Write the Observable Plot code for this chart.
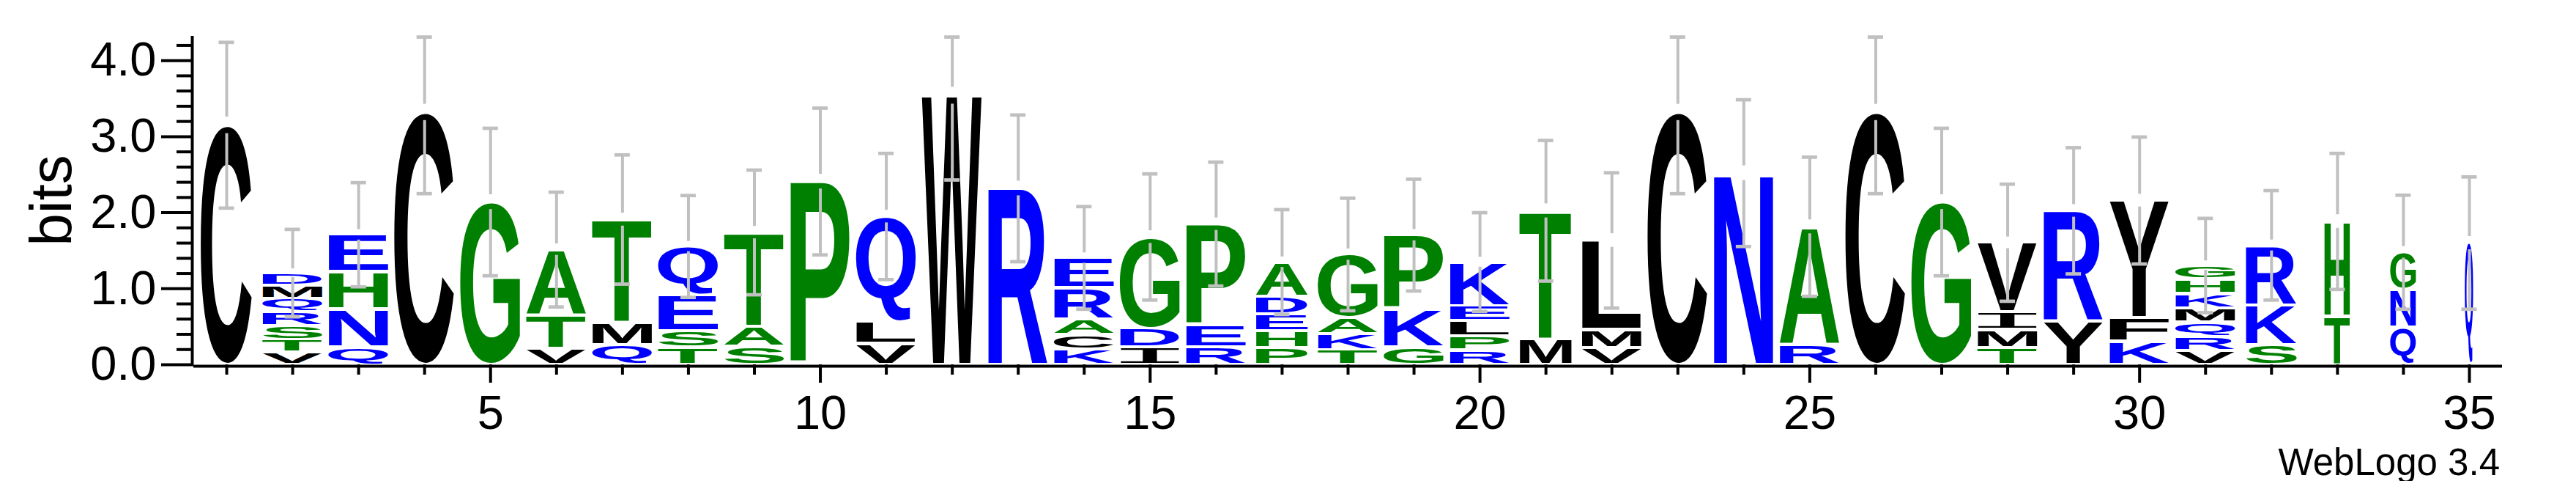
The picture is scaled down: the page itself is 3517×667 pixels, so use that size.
<!DOCTYPE html>
<html>
<head>
<meta charset="utf-8">
<script src="https://cdn.jsdelivr.net/npm/d3@7"></script>
<script src="https://cdn.jsdelivr.net/npm/@observablehq/plot@0.6"></script>
<style>
  html, body { margin: 0; padding: 0; background: #fff; color: #000; }
  #caption {
    font-family: "Liberation Sans", Arial, sans-serif;
    font-size: 51px; line-height: 50px;
    text-align: right; padding-right: 104px; margin-top: 6px;
  }
</style>
</head>
<body>
<div id="chart"></div>
<div id="caption">WebLogo 3.4</div>
<script>
// ---------------- data ----------------
const positions = [1,2,3,4,5,6,7,8,9,10,11,12,13,14,15,16,17,18,19,20,21,22,23,24,25,26,27,28,29,30,31,32,33,34,35];

// letters of each stack, bottom -> top
const stackLetters = [
  "C", "VTSRQMD", "QNHE", "C", "G", "VTA", "QMT", "TSEQ", "SAT", "P",
  "VLQ", "W", "R", "KCARE", "IDG", "REP", "PHEDA", "TKAG", "GKP", "RPLEK",
  "MT", "VML", "C", "N", "RA", "C", "G", "TMIV", "YR", "KFY",
  "VRQMKHG", "SKR", "TH", "QNG", "Q"
];

// height (bits) of each letter, bottom -> top
const stackBits = [
  [3.15],
  [0.16, 0.17, 0.185, 0.18, 0.175, 0.17, 0.165],
  [0.23, 0.50, 0.49, 0.49],
  [3.32],
  [2.14],
  [0.21, 0.435, 0.87],
  [0.26, 0.285, 1.365],
  [0.225, 0.22, 0.465, 0.645],
  [0.24, 0.26, 1.24],
  [2.41],
  [0.275, 0.285, 1.39],
  [3.54],
  [2.32],
  [0.20, 0.195, 0.205, 0.41, 0.395],
  [0.23, 0.25, 1.20],
  [0.23, 0.29, 1.33],
  [0.22, 0.22, 0.225, 0.235, 0.45],
  [0.195, 0.21, 0.21, 0.835],
  [0.23, 0.50, 0.975],
  [0.19, 0.19, 0.195, 0.195, 0.58],
  [0.335, 1.69],
  [0.225, 0.24, 1.17],
  [3.32],
  [2.52],
  [0.26, 1.555],
  [3.32],
  [2.14],
  [0.225, 0.235, 0.23, 0.915],
  [0.575, 1.45],
  [0.305, 0.31, 1.545],
  [0.18, 0.185, 0.19, 0.19, 0.19, 0.19, 0.18],
  [0.26, 0.525, 0.785],
  [0.635, 1.25],
  [0.49, 0.50, 0.49],
  [1.60]
];

// error bar half-length (bits), centred on stack top
const errorBits = [
  1.09, 0.575, 0.685, 1.07, 0.97, 0.755, 0.85, 0.67, 0.82, 0.965,
  0.83, 1.11, 0.965, 0.675, 0.83, 0.815, 0.69, 0.74, 0.735, 0.65,
  0.925, 0.89, 1.07, 0.965, 0.915, 1.07, 0.97, 0.77, 0.83, 0.835,
  0.62, 0.72, 0.895, 0.75, 0.87
];

// relative stack width (fraction of sequences present)
const stackWidths = [
  0.855, 1, 1, 1, 1, 1, 1, 1, 1, 1,
  1, 1, 1, 1, 1, 1, 0.87, 1, 1, 1,
  0.87, 1, 1, 1, 1, 1, 1, 1, 1, 1,
  1, 0.855, 0.43, 0.43, 0.14
];

// hydrophobicity colour scheme
const hydrophilicLetters = "RKDENQ";
const neutralLetters = "SGHTAP";
const hydrophobicLetters = "YVMCLFIW";
const schemeColors = { hydrophilic: "#0000ff", neutral: "#008000", hydrophobic: "#000000" };

const yMajorTicks = [0, 1, 2, 3, 4];
const yMinorTicks = [0.2,0.4,0.6,0.8,1.2,1.4,1.6,1.8,2.2,2.4,2.6,2.8,3.2,3.4,3.6,3.8,4.2];
const xMajorTicks = [5, 10, 15, 20, 25, 30, 35];
const xMinorTicks = [1,2,3,4,6,7,8,9,11,12,13,14,16,17,18,19,21,22,23,24,26,27,28,29,31,32,33,34];

// ---------------- build tables ----------------
const FULL_W = 0.91;      // stack width in position units
const CAP = 0.1166;       // half width of error cap in position units
const Y_MAX = 4.32;       // log2(20)
const BAR_CLIP = 4.31;

function colorOf(L) {
  if (hydrophilicLetters.includes(L)) return schemeColors.hydrophilic;
  if (neutralLetters.includes(L)) return schemeColors.neutral;
  return schemeColors.hydrophobic;
}

const letterData = [];
positions.forEach((p, i) => {
  let cum = 0;
  stackLetters[i].split("").forEach((L, j) => {
    const h = stackBits[i][j];
    letterData.push({pos: p, letter: L, y0: cum, y1: cum + h, mid: cum + h / 2,
                     w: FULL_W * stackWidths[i], color: colorOf(L)});
    cum += h;
  });
});

const errData = positions.map((p, i) => {
  const top = d3.sum(stackBits[i]);
  const e = errorBits[i];
  return {pos: p, lo: top - e, loIn: top - 0.1 * e,
          hiIn: Math.min(top + 0.1 * e, BAR_CLIP), hi: Math.min(top + e, BAR_CLIP)};
});
const capData = errData.flatMap(d => [{pos: d.pos, y: d.lo}, {pos: d.pos, y: d.hi}]);

const FONT = '"Liberation Sans", Arial, Helvetica, sans-serif';
const GRAY = "#c0c0c0";

const chart = Plot.plot({
  width: 3517,
  height: 600,
  marginLeft: 264,
  marginRight: 101,
  marginTop: 49,
  marginBottom: 103,
  x: {domain: [0.5, 35.5]},
  y: {domain: [0, Y_MAX]},
  color: {type: "identity"},
  style: {fontFamily: FONT, background: "#fff", color: "#000", overflow: "visible"},
  marks: [
    Plot.text(letterData, {x: "pos", y: "mid", text: "letter", fill: "color",
      fontSize: 100, fontWeight: "bold"}),
    Plot.ruleX(errData, {x: "pos", y1: "lo", y2: "loIn", stroke: GRAY, strokeWidth: 4}),
    Plot.ruleX(errData, {x: "pos", y1: "hiIn", y2: "hi", stroke: GRAY, strokeWidth: 4}),
    Plot.ruleY(capData, {y: "y", x1: d => d.pos - CAP, x2: d => d.pos + CAP, stroke: GRAY, strokeWidth: 4.7}),
    Plot.ruleX([0.5], {y1: 0, y2: Y_MAX, dx: -2, strokeWidth: 4, stroke: "#000"}),
    Plot.ruleY([0], {x1: 0.5, x2: 35.5, dy: 2, strokeWidth: 4, stroke: "#000"}),
    Plot.axisY(yMajorTicks, {anchor: "left", tickSize: 44, tickPadding: 7, strokeWidth: 4,
      tickFormat: d3.format(".1f"), fontSize: 65, label: null}),
    Plot.axisY(yMinorTicks, {anchor: "left", tickSize: 23, strokeWidth: 4,
      tickFormat: () => "", label: null}),
    Plot.axisX(xMajorTicks, {anchor: "bottom", tickSize: 25, tickPadding: 16, strokeWidth: 4,
      tickFormat: d => String(d), fontSize: 65, label: null}),
    Plot.axisX(xMinorTicks, {anchor: "bottom", tickSize: 14, strokeWidth: 4,
      tickFormat: () => "", label: null}),
    Plot.text(["bits"], {frameAnchor: "left", rotate: -90, dx: -193, fontSize: 80,
      textAnchor: "middle", lineAnchor: "middle"})
  ]
});

document.getElementById("chart").append(chart);

// ---- stretch each letter glyph to fill its box (positions from Plot's scales) ----
const xs = chart.scale("x"), ys = chart.scale("y");
const ctx = document.createElement("canvas").getContext("2d");
const INSET = 2;
function fontFor(L) {
  return L === "I" ? '100px "DejaVu Sans Mono"' : 'bold 100px "Liberation Sans"';
}
const groups = Array.from(chart.querySelectorAll('g[aria-label="text"]'));
const lg = groups.find(g => g.querySelectorAll("text").length === letterData.length);
if (lg) {
  lg.removeAttribute("transform");
  Array.from(lg.querySelectorAll("text")).forEach((t, k) => {
    const i = typeof t.__data__ === "number" ? t.__data__ : k;
    const d = letterData[i];
    ctx.font = fontFor(d.letter);
    const m = ctx.measureText(d.letter);
    const L = m.actualBoundingBoxLeft, R = m.actualBoundingBoxRight;
    const A = m.actualBoundingBoxAscent, D = m.actualBoundingBoxDescent;
    const X1 = xs.apply(d.pos - d.w / 2), X2 = xs.apply(d.pos + d.w / 2);
    const Yt = ys.apply(d.y1) + INSET, Yb = ys.apply(d.y0) - INSET;
    const sx = (X2 - X1) / (L + R);
    const sy = Math.max(0.5, Yb - Yt) / (A + D);
    t.setAttribute("x", 0);
    t.setAttribute("y", 0);
    t.removeAttribute("dx");
    t.removeAttribute("dy");
    t.setAttribute("text-anchor", "start");
    t.style.font = fontFor(d.letter);
    t.setAttribute("transform", `translate(${X1},${Yt}) scale(${sx},${sy}) translate(${L},${A})`);
  });
}
</script>
</body>
</html>
